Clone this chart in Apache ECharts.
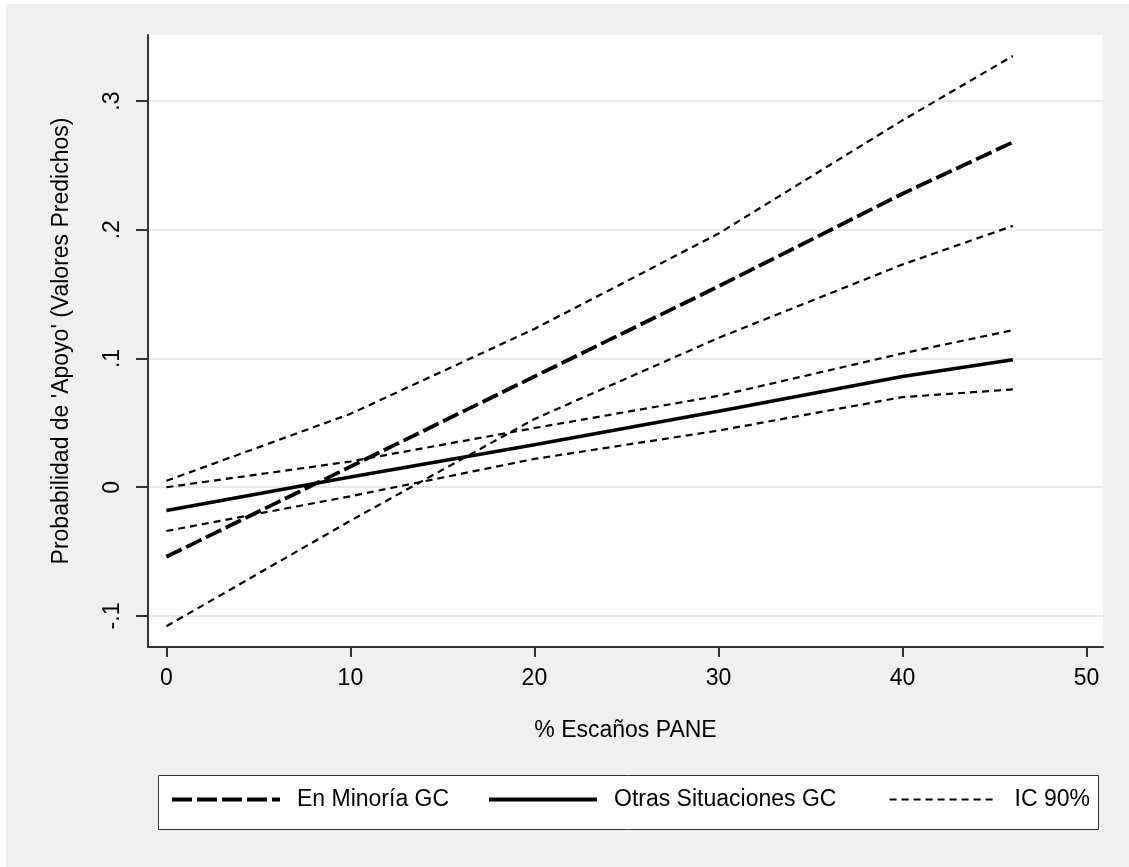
<!DOCTYPE html>
<html>
<head>
<meta charset="utf-8">
<script src="https://cdn.jsdelivr.net/npm/echarts@6/dist/echarts.min.js"></script>
<style>html,body{margin:0;padding:0;background:#fff}#c{width:1129px;height:867px}</style>
</head>
<body>
<div id="c"></div>
<script>
// Data
const xValues      = [0, 10, 20, 30, 40, 46];
const minoria      = [-0.054, 0.016, 0.086, 0.156, 0.228, 0.268];
const minoriaUpper = [0.005, 0.057, 0.123, 0.197, 0.285, 0.335];
const minoriaLower = [-0.108, -0.026, 0.053, 0.116, 0.173, 0.203];
const otras        = [-0.018, 0.008, 0.033, 0.059, 0.086, 0.099];
const otrasUpper   = [0.000, 0.020, 0.046, 0.071, 0.104, 0.122];
const otrasLower   = [-0.034, -0.007, 0.022, 0.044, 0.070, 0.076];
const xTicks = [0, 10, 20, 30, 40, 50];
const yTicks = [-0.1, 0, 0.1, 0.2, 0.3];
const names = ['En Minoría GC', 'Otras Situaciones GC', 'IC 90%'];

const pairs = arr => xValues.map((x, i) => [x, arr[i]]);
const FONT = "'Liberation Sans', Arial, sans-serif";
const longDash = [17, 5], shortDash = [7, 5];

function lineSeries(name, arr, type, width, z) {
  return {
    type: 'line', name, data: pairs(arr), symbol: 'none', z,
    lineStyle: { color: '#000', width, type },
    itemStyle: { color: '#000' },
    emphasis: { disabled: true }, silent: true, animation: false
  };
}

const chart = echarts.init(document.getElementById('c'));
const legendBase = {
  orient: 'horizontal', top: 788, itemWidth: 108, itemHeight: 14, padding: 0,
  selectedMode: false,
  itemStyle: { opacity: 0 },
  textStyle: { fontFamily: FONT, fontSize: 23, color: '#000', padding: [0, 0, 0, 12] }
};
chart.setOption({
  backgroundColor: '#fff',
  animation: false,
  textStyle: { fontFamily: FONT },
  graphic: [
    { type: 'rect', z: -10, shape: { x: 6, y: 4, width: 1123, height: 863 }, style: { fill: '#f0f0f0' } },
    { type: 'rect', z: -5, shape: { x: 158.5, y: 775.5, width: 940, height: 54 }, style: { fill: '#fff', stroke: '#333', lineWidth: 1 } }
  ],
  grid: { left: 148, top: 35, right: 26, bottom: 220, show: true, backgroundColor: '#fff', borderWidth: 0 },
  legend: [
    Object.assign({}, legendBase, { left: 170, data: [names[0]], lineStyle: { width: 4, type: [20, 5], color: '#000' } }),
    Object.assign({}, legendBase, { left: 487, data: [names[1]], lineStyle: { width: 4, type: 'solid', color: '#000' } }),
    Object.assign({}, legendBase, { right: 39, data: [names[2]], lineStyle: { width: 2, type: shortDash, color: '#000' } })
  ],
  xAxis: {
    type: 'value', min: -1, max: 50.9,
    name: '% Escaños PANE', nameLocation: 'middle', nameGap: 72,
    nameTextStyle: { fontFamily: FONT, fontSize: 23, color: '#000' },
    axisLine: { show: true, onZero: false, lineStyle: { color: '#333', width: 2 } },
    axisTick: { show: true, length: 10, customValues: xTicks, lineStyle: { color: '#333', width: 2 } },
    axisLabel: { customValues: xTicks, fontFamily: FONT, fontSize: 23, color: '#000', margin: 20 },
    splitLine: { show: false }
  },
  yAxis: {
    type: 'value', min: -0.1241, max: 0.3513,
    name: "Probabilidad de 'Apoyo' (Valores Predichos)", nameLocation: 'middle', nameGap: 75,
    nameTextStyle: { fontFamily: FONT, fontSize: 23, color: '#000' },
    axisLine: { show: true, onZero: false, lineStyle: { color: '#333', width: 2 } },
    axisTick: { show: true, length: 12, customValues: yTicks, lineStyle: { color: '#333', width: 2 } },
    axisLabel: {
      customValues: yTicks, rotate: 90, fontFamily: FONT, fontSize: 23, color: '#000', margin: 24,
      formatter: v => {
        const r = Math.round(v * 10) / 10;
        if (r === 0) return '0';
        return (r < 0 ? '-' : '') + String(Math.abs(r)).replace(/^0/, '');
      }
    },
    splitLine: { show: true, lineStyle: { color: '#e8e8e8', width: 2 } }
  },
  series: [
    lineSeries(names[2], minoriaUpper, shortDash, 2.2, 2),
    lineSeries(names[2], minoriaLower, shortDash, 2.2, 2),
    lineSeries(names[2], otrasUpper, shortDash, 2.2, 2),
    lineSeries(names[2], otrasLower, shortDash, 2.2, 2),
    lineSeries(names[1], otras, 'solid', 3.5, 3),
    lineSeries(names[0], minoria, longDash, 3.8, 4)
  ]
});
</script>
</body>
</html>
